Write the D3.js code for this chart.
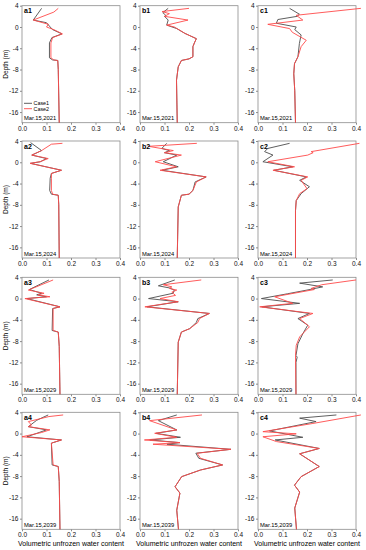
<!DOCTYPE html>
<html>
<head>
<meta charset="utf-8">
<script src="https://cdn.jsdelivr.net/npm/d3@7"></script>
<style>
  body { margin: 0; background: #fff; }
  svg { display: block; font-family: "Liberation Sans", Arial, sans-serif; }
  .axis path, .axis line { stroke: #8c8c8c; }
  .axis text { fill: #111; font-size: 6.5px; }
</style>
</head>
<body>
<div id="chart"></div>
<script>
// values are [water content, depth (m)]
var a1Case1 = [[0.08,3.5],[0.046,1.3],[0.1,0.8],[0.115,0.0],[0.125,-0.5],[0.163,-1.3],[0.122,-2.0],[0.112,-3],[0.112,-5.8],[0.125,-6.2],[0.146,-6.3],[0.148,-8],[0.152,-18]];
var a1Case2 = [[0.148,3.5],[0.13,2.8],[0.046,1.3],[0.108,0.5],[0.1,0.0],[0.13,-0.5],[0.165,-1.3],[0.125,-2.0],[0.118,-3],[0.118,-5.8],[0.13,-6.2],[0.146,-6.3],[0.148,-8],[0.152,-18]];
var b1Case1 = [[0.115,3.5],[0.093,2.7],[0.105,2.2],[0.1,2.0],[0.115,1.3],[0.109,0.35],[0.15,-0.3],[0.183,-1.2],[0.23,-2.2],[0.222,-3.0],[0.216,-3.7],[0.216,-5.6],[0.2,-6.0],[0.169,-6.3],[0.156,-7.5],[0.149,-10],[0.152,-18]];
var b1Case2 = [[0.2,3.5],[0.09,2.9],[0.12,2.5],[0.1,2.0],[0.196,1.3],[0.109,0.35],[0.14,0],[0.183,-1.2],[0.23,-2.2],[0.222,-3.0],[0.216,-3.7],[0.216,-5.6],[0.2,-6.0],[0.169,-6.3],[0.156,-7.5],[0.149,-10],[0.152,-18]];
var c1Case1 = [[0.129,3.5],[0.169,2.4],[0.16,2.0],[0.081,1.4],[0.075,0.7],[0.156,0.0],[0.15,-0.5],[0.176,-1.5],[0.169,-3.1],[0.163,-5.6],[0.149,-6.9],[0.146,-8.8],[0.15,-12],[0.153,-18]];
var c1Case2 = [[0.42,3.5],[0.156,2.2],[0.183,1.3],[0.04,0.5],[0.129,-0.3],[0.14,-1.0],[0.197,-2.5],[0.176,-3.7],[0.163,-5.6],[0.149,-6.9],[0.146,-8.8],[0.15,-12],[0.153,-18]];

var a2Case1 = [[0.035,3.7],[0.08,2.2],[0.04,1.35],[0.1,0.7],[0.075,0.1],[0.035,-0.2],[0.161,-1.5],[0.12,-2.1],[0.115,-3],[0.113,-5.3],[0.12,-6],[0.148,-6.2],[0.15,-8],[0.152,-18]];
var a2Case2 = [[0.165,3.56],[0.12,3.4],[0.08,2.2],[0.04,1.35],[0.107,0.7],[0.073,0.1],[0.033,-0.2],[0.161,-1.5],[0.12,-2.1],[0.12,-3],[0.12,-5.3],[0.125,-6],[0.148,-6.2],[0.15,-8],[0.152,-18]];
var b2Case1 = [[0.109,3.56],[0.089,2.6],[0.12,2.2],[0.1,1.8],[0.15,1.35],[0.095,0.1],[0.156,-0.85],[0.09,-1.5],[0.27,-2.75],[0.225,-3.7],[0.216,-5.3],[0.2,-6],[0.169,-6.2],[0.156,-8.4],[0.152,-18]];
var b2Case2 = [[0.232,3.56],[0.035,3.0],[0.136,2.2],[0.1,1.8],[0.169,1.35],[0.062,0.1],[0.149,-0.85],[0.082,-1.5],[0.27,-2.75],[0.23,-3.7],[0.216,-5.3],[0.2,-6],[0.169,-6.2],[0.156,-8.4],[0.152,-18]];
var c2Case1 = [[0.129,3.56],[0.04,2.6],[0.027,2.0],[0.061,1.35],[0.02,0.1],[0.142,-0.85],[0.065,-1.5],[0.197,-2.75],[0.17,-3.4],[0.21,-4.6],[0.176,-5.9],[0.156,-7.2],[0.153,-9.1],[0.153,-18]];
var c2Case2 = [[0.414,3.56],[0.217,2.0],[0.225,1.8],[0.203,1.35],[0.04,0.1],[0.149,-0.85],[0.061,-1.5],[0.203,-2.75],[0.176,-3.4],[0.2,-4.96],[0.17,-5.9],[0.156,-7.2],[0.153,-9.1],[0.153,-18]];

var a3Case1 = [[0.11,3.5],[0.03,1.7],[0.08,1.0],[0.06,0.7],[0.1,0.34],[0.02,0.0],[0.155,-1.55],[0.125,-1.87],[0.123,-6.0],[0.148,-6.3],[0.152,-9],[0.155,-18]];
var a3Case2 = [[0.127,3.5],[0.026,1.6],[0.09,1.0],[0.065,0.7],[0.114,0.34],[0.012,0.0],[0.155,-1.55],[0.127,-1.87],[0.127,-6.0],[0.148,-6.3],[0.152,-9],[0.155,-18]];
var b3Case1 = [[0.142,3.5],[0.075,2.4],[0.12,2.0],[0.14,1.6],[0.135,1.0],[0.035,0.0],[0.156,-0.6],[0.028,-1.55],[0.283,-2.8],[0.236,-3.76],[0.23,-4.5],[0.203,-5.65],[0.169,-6.3],[0.156,-8.2],[0.152,-18]];
var b3Case2 = [[0.25,3.5],[0.095,2.6],[0.13,2.2],[0.12,1.9],[0.15,1.6],[0.13,1.2],[0.145,0.6],[0.082,0.0],[0.156,-0.6],[0.02,-1.55],[0.283,-2.8],[0.243,-3.76],[0.236,-4.5],[0.203,-5.65],[0.169,-6.3],[0.156,-8.2],[0.152,-18]];
var c3Case1 = [[0.305,3.5],[0.17,2.9],[0.264,2.2],[0.2,1.6],[0.12,0.9],[0.014,0.0],[0.17,-0.9],[0.015,-1.55],[0.21,-2.8],[0.163,-3.76],[0.203,-5.0],[0.183,-6.6],[0.163,-8.5],[0.155,-10.7],[0.16,-11],[0.155,-12],[0.155,-18]];
var c3Case2 = [[0.4,3.5],[0.26,2.6],[0.217,1.9],[0.23,1.7],[0.068,0.34],[0.142,-0.9],[0.007,-1.55],[0.224,-2.8],[0.17,-3.76],[0.21,-5.3],[0.17,-7.2],[0.156,-8.8],[0.153,-10.7],[0.155,-18]];

var a4Case1 = [[0.107,3.5],[0.06,2.5],[0.026,1.3],[0.1,0.7],[0.07,0.2],[0.02,-0.6],[0.161,-1.2],[0.12,-1.8],[0.123,-5.9],[0.148,-6.2],[0.152,-9],[0.155,-18]];
var a4Case2 = [[0.168,3.5],[0.11,3.2],[0.026,2.25],[0.039,1.6],[0.026,1.3],[0.114,0.7],[0.08,0.2],[0.0,-0.6],[0.161,-1.2],[0.12,-1.8],[0.127,-5.9],[0.148,-6.2],[0.152,-9],[0.155,-18]];
var b4Case1 = [[0.15,3.5],[0.075,2.43],[0.15,0.68],[0.065,0.05],[0.165,-0.7],[0.04,-1.2],[0.163,-1.7],[0.11,-2.0],[0.371,-2.96],[0.228,-3.7],[0.24,-4.65],[0.337,-5.9],[0.247,-6.85],[0.17,-8.1],[0.143,-10],[0.163,-11.2],[0.15,-14.4],[0.157,-18]];
var b4Case2 = [[0.253,3.5],[0.039,2.43],[0.15,0.68],[0.06,0.05],[0.15,-0.7],[0.018,-1.2],[0.163,-1.7],[0.053,-2.0],[0.371,-2.96],[0.233,-3.7],[0.247,-4.65],[0.337,-5.9],[0.247,-6.85],[0.17,-8.1],[0.143,-10],[0.163,-11.2],[0.15,-14.4],[0.157,-18]];
var c4Case1 = [[0.32,3.5],[0.17,2.9],[0.237,2.25],[0.047,0.5],[0.183,-0.7],[0.07,-1.2],[0.25,-2.8],[0.17,-3.8],[0.25,-6.2],[0.176,-8.1],[0.149,-9.7],[0.17,-11],[0.15,-14],[0.157,-18]];
var c4Case2 = [[0.42,3.5],[0.224,1.9],[0.02,0.36],[0.156,-0.05],[0.02,-0.6],[0.075,-1.5],[0.25,-2.8],[0.17,-3.8],[0.25,-6.2],[0.176,-8.1],[0.149,-9.7],[0.17,-11],[0.15,-14],[0.157,-18]];

var dates = ["Mar.15,2021", "Mar.15,2024", "Mar.15,2029", "Mar.15,2039"];
var cols = ["a", "b", "c"];
var xTicks = [0, 0.1, 0.2, 0.3, 0.4];
var yTicks = [4, 0, -4, -8, -12, -16];

var case1 = [[a1Case1, b1Case1, c1Case1], [a2Case1, b2Case1, c2Case1], [a3Case1, b3Case1, c3Case1], [a4Case1, b4Case1, c4Case1]];
var case2 = [[a1Case2, b1Case2, c1Case2], [a2Case2, b2Case2, c2Case2], [a3Case2, b3Case2, c3Case2], [a4Case2, b4Case2, c4Case2]];

var w = 366;
var h = 550;
var colX = [22, 140, 258];
var rowY = [5.7, 141, 277.3, 412.3];
var pw = 98;
var ph = 117;
var gray = "#4d4d4d";
var red = "#ff4a4a";

var svg = d3.select("#chart")
    .append("svg")
    .attr("width", w)
    .attr("height", h);

var xScale = d3.scaleLinear().domain([0, 0.4]).range([0, pw]);
var yScale = d3.scaleLinear().domain([-18, 4]).range([ph, 0]);

var line = d3.line()
    .x(function(d) { return xScale(d[0]); })
    .y(function(d) { return yScale(d[1]); });

rowY.forEach(function(ry, r) {
    colX.forEach(function(cx, c) {
        var g = svg.append("g").attr("transform", "translate(" + cx + "," + ry + ")");

        g.append("rect")
            .attr("width", pw)
            .attr("height", ph)
            .attr("fill", "none")
            .attr("stroke", "#8c8c8c")
            .attr("stroke-width", 0.8);

        g.append("g")
            .attr("class", "axis")
            .attr("transform", "translate(0," + ph + ")")
            .call(d3.axisBottom(xScale).tickValues(xTicks).tickSize(2).tickPadding(1.5)
                .tickFormat(d3.format(".1f")))
            .select(".domain").remove();

        g.append("g")
            .attr("class", "axis")
            .call(d3.axisLeft(yScale).tickValues(yTicks).tickSize(2).tickPadding(1.5)
                .tickFormat(function(d) { return String(d); }))
            .select(".domain").remove();

        g.append("path")
            .datum(case1[r][c])
            .attr("d", line)
            .attr("fill", "none")
            .attr("stroke", gray)
            .attr("stroke-width", 0.9);

        g.append("path")
            .datum(case2[r][c])
            .attr("d", line)
            .attr("fill", "none")
            .attr("stroke", red)
            .attr("stroke-width", 0.9);

        g.append("text")
            .attr("x", 2)
            .attr("y", 7.5)
            .attr("font-size", "7px")
            .attr("font-weight", "bold")
            .text(cols[c] + (r + 1));

        g.append("text")
            .attr("x", 2)
            .attr("y", ph - 2.5)
            .attr("font-size", "5.8px")
            .text(dates[r]);
    });

    svg.append("text")
        .attr("transform", "translate(8," + (ry + ph / 2) + ") rotate(-90)")
        .attr("text-anchor", "middle")
        .attr("font-size", "6.5px")
        .text("Depth (m)");
});

// legend in a1
var legend = svg.append("g").attr("transform", "translate(" + colX[0] + "," + rowY[0] + ")");
[["Case1", gray], ["Case2", red]].forEach(function(d, i) {
    var ly = 97.6 + i * 5.4;
    legend.append("line")
        .attr("x1", 2).attr("x2", 10)
        .attr("y1", ly).attr("y2", ly)
        .attr("stroke", d[1])
        .attr("stroke-width", 0.9);
    legend.append("text")
        .attr("x", 11.5)
        .attr("y", ly + 1.9)
        .attr("font-size", "5.4px")
        .text(d[0]);
});

colX.forEach(function(cx) {
    svg.append("text")
        .attr("x", cx + pw / 2)
        .attr("y", 546)
        .attr("text-anchor", "middle")
        .attr("font-size", "7px")
        .text("Volumetric unfrozen water content");
});
</script>
</body>
</html>
